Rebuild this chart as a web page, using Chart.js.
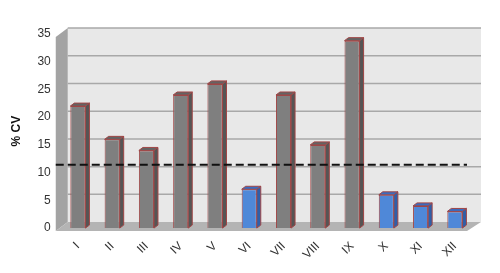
<!DOCTYPE html>
<html>
<head>
<meta charset="utf-8">
<script src="https://cdn.jsdelivr.net/npm/chart.js@4"></script>
<style>
  html, body { margin: 0; padding: 0; background: #fff; }
  #wrap { width: 500px; height: 273px; }
</style>
</head>
<body>
<div id="wrap"><canvas id="cvChart"></canvas></div>
<script>
// chart data
const groups = ['I', 'II', 'III', 'IV', 'V', 'VI', 'VII', 'VIII', 'IX', 'X', 'XI', 'XII'];
const cvValues = [22, 16, 14, 24, 26, 7, 24, 15, 33.8, 6, 4, 3];
const isBlue = [false, false, false, false, false, true, false, false, false, true, true, true];
const yTicks = [0, 5, 10, 15, 20, 25, 30, 35];
const cutoff = 11.4;

const GREY = '#7f7f7f', BLUE = '#4f88d8';

// draws the 3D walls, floor and back gridlines behind the bars
const walls = {
    id: 'walls',
    beforeDatasetsDraw(chart) {
        const { ctx, chartArea: a, scales: { y } } = chart;
        const bx = 7, by = -6;   // back plane offset
        const fx = -5, fy = 3;   // front plane offset
        ctx.save();
        // back wall
        ctx.fillStyle = '#e8e8e8';
        ctx.fillRect(a.left + bx, y.getPixelForValue(35) + by, a.right - a.left + 2, y.getPixelForValue(0) - y.getPixelForValue(35));
        // left wall
        ctx.fillStyle = '#a3a3a3';
        ctx.beginPath();
        ctx.moveTo(a.left + fx, y.getPixelForValue(35) + fy);
        ctx.lineTo(a.left + bx, y.getPixelForValue(35) + by);
        ctx.lineTo(a.left + bx, y.getPixelForValue(0) + by);
        ctx.lineTo(a.left + fx, y.getPixelForValue(0) + fy);
        ctx.closePath();
        ctx.fill();
        // floor
        ctx.fillStyle = '#b4b4b4';
        ctx.beginPath();
        ctx.moveTo(a.left + fx, y.getPixelForValue(0) + fy);
        ctx.lineTo(a.left + bx, y.getPixelForValue(0) + by);
        ctx.lineTo(a.right + bx + 2, y.getPixelForValue(0) + by);
        ctx.lineTo(a.right + fx, y.getPixelForValue(0) + fy);
        ctx.closePath();
        ctx.fill();
        // back gridlines
        ctx.strokeStyle = '#a8a8a8';
        ctx.lineWidth = 1.5;
        yTicks.forEach(v => {
            if (v === 0) return;
            const py = y.getPixelForValue(v) + by;
            ctx.beginPath();
            ctx.moveTo(a.left + bx, py);
            ctx.lineTo(a.right + bx + 2, py);
            ctx.stroke();
        });
        ctx.restore();
    },
    afterDatasetsDraw(chart) {
        const { ctx, chartArea: a, scales: { y } } = chart;
        const meta = chart.getDatasetMeta(0);
        const dx = 4, dy = -3;
        ctx.save();
        ctx.strokeStyle = '#a04646';
        ctx.lineWidth = 1;
        meta.data.forEach((bar, i) => {
            const half = bar.width / 2;
            const l = bar.x - half, r = bar.x + half;
            // side face
            ctx.fillStyle = isBlue[i] ? '#2f5fa8' : '#555555';
            ctx.beginPath();
            ctx.moveTo(r, bar.y);
            ctx.lineTo(r + dx, bar.y + dy);
            ctx.lineTo(r + dx, bar.base + dy);
            ctx.lineTo(r, bar.base);
            ctx.closePath();
            ctx.fill();
            ctx.stroke();
            // top face
            ctx.fillStyle = isBlue[i] ? '#3a6cc0' : '#636363';
            ctx.beginPath();
            ctx.moveTo(l, bar.y);
            ctx.lineTo(l + dx, bar.y + dy);
            ctx.lineTo(r + dx, bar.y + dy);
            ctx.lineTo(r, bar.y);
            ctx.closePath();
            ctx.fill();
            ctx.stroke();
        });
        // dashed cut-off line
        const py = y.getPixelForValue(cutoff);
        ctx.strokeStyle = '#111';
        ctx.lineWidth = 2;
        ctx.setLineDash([8, 4]);
        ctx.beginPath();
        ctx.moveTo(a.left - 5, py);
        ctx.lineTo(a.right - 5, py);
        ctx.stroke();
        ctx.restore();
    }
};

new Chart(document.getElementById('cvChart'), {
    type: 'bar',
    data: {
        labels: groups,
        datasets: [{
            data: cvValues,
            backgroundColor: isBlue.map(b => b ? BLUE : GREY),
            borderColor: '#a04646',
            borderWidth: 1,
            categoryPercentage: 0.88,
            barPercentage: 0.5
        }]
    },
    options: {
        responsive: true,
        maintainAspectRatio: false,
        animation: false,
        layout: { padding: { top: 34, right: 28, bottom: 0, left: 5 } },
        plugins: { legend: { display: false }, tooltip: { enabled: false } },
        scales: {
            x: {
                grid: { display: false, drawTicks: false },
                border: { display: false },
                ticks: {
                    minRotation: 45, maxRotation: 45, padding: 11,
                    color: '#333', font: { family: 'Liberation Sans', size: 12 }
                }
            },
            y: {
                min: 0, max: 35,
                afterBuildTicks: axis => { axis.ticks = yTicks.map(v => ({ value: v })); },
                grid: { display: false, drawTicks: false },
                border: { display: false },
                ticks: {
                    padding: 10,
                    color: '#333', font: { family: 'Liberation Sans', size: 12 }
                },
                title: {
                    display: true, text: '% CV', color: '#111',
                    font: { family: 'Liberation Sans', size: 12, weight: 'bold' }
                }
            }
        }
    },
    plugins: [walls]
});
</script>
</body>
</html>
